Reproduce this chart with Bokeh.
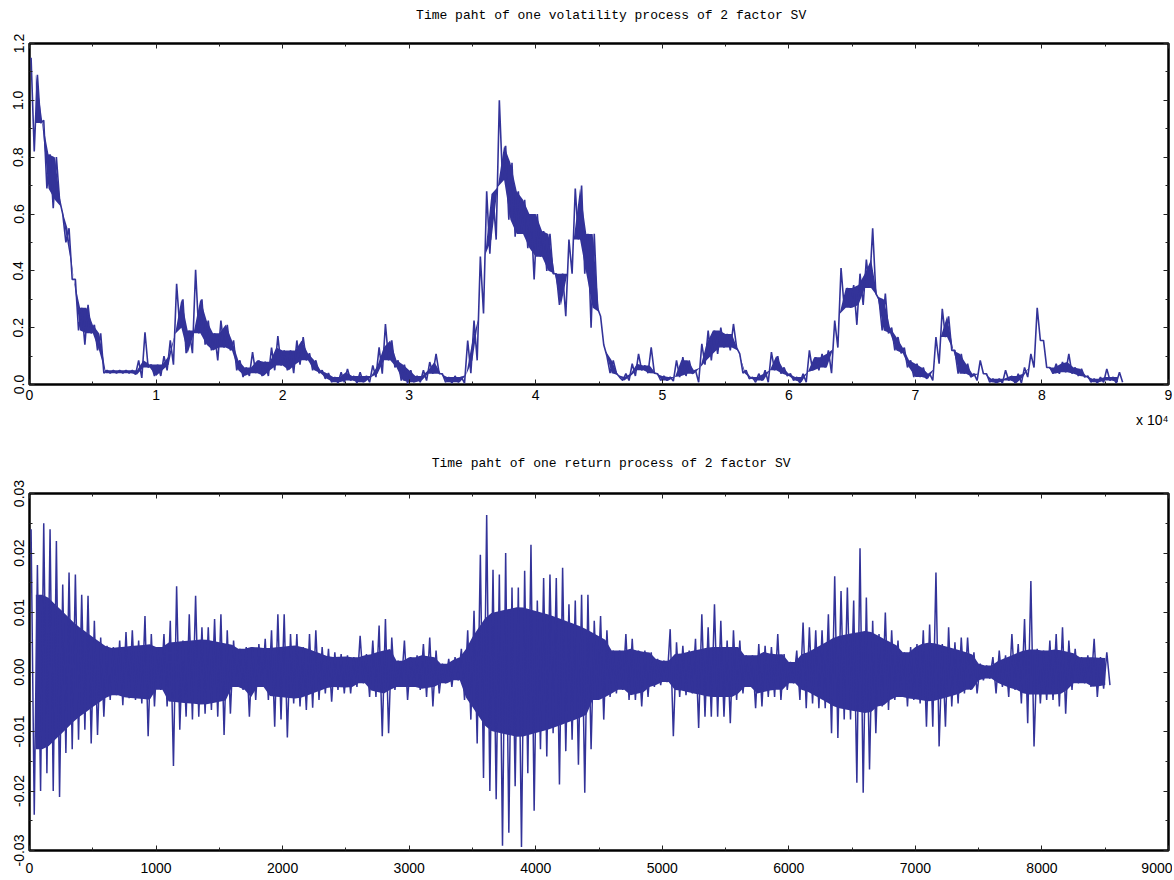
import numpy as np
from bokeh.plotting import figure
from bokeh.models import FixedTicker, LinearAxis, Title, PrintfTickFormatter, Range1d, BasicTickFormatter
from bokeh.core.properties import value
from bokeh.layouts import column
from bokeh.embed import file_html
from bokeh.resources import INLINE

# ---------------- data ----------------
# volatility path, x in units of 10^4, bins of 0.05 : local high / low in each bin
VOL_BIN = 0.05
vol_hi = [1.15, 1.09, 0.93, 0.81, 0.80, 0.60, 0.55, 0.37, 0.27, 0.28,
          0.21, 0.18, 0.05, 0.05, 0.05, 0.05, 0.05, 0.085, 0.184, 0.07,
          0.07, 0.10, 0.155, 0.354, 0.30, 0.19, 0.404, 0.30, 0.225, 0.18,
          0.225, 0.21, 0.155, 0.085, 0.06, 0.114, 0.085, 0.08, 0.13, 0.17,
          0.12, 0.12, 0.155, 0.167, 0.11, 0.085, 0.05, 0.04, 0.026, 0.043,
          0.055, 0.03, 0.043, 0.03, 0.067, 0.131, 0.213, 0.155, 0.085, 0.07,
          0.05, 0.03, 0.05, 0.079, 0.108, 0.038, 0.026, 0.03, 0.026, 0.155,
          0.225, 0.45, 0.68, 0.67, 1.0, 0.84, 0.78, 0.68, 0.65, 0.60,
          0.60, 0.54, 0.53, 0.39, 0.39, 0.51, 0.69, 0.70, 0.53, 0.53,
          0.24, 0.10, 0.085, 0.026, 0.038, 0.073, 0.108, 0.067, 0.131, 0.038,
          0.03, 0.026, 0.085, 0.096, 0.085, 0.05, 0.143, 0.19, 0.19, 0.20,
          0.178, 0.213, 0.108, 0.05, 0.026, 0.038, 0.05, 0.114, 0.10, 0.06,
          0.038, 0.026, 0.038, 0.12, 0.096, 0.108, 0.12, 0.225, 0.41, 0.34,
          0.35, 0.39, 0.44, 0.55, 0.30, 0.32, 0.20, 0.167, 0.13, 0.085,
          0.073, 0.06, 0.038, 0.167, 0.266, 0.24, 0.12, 0.108, 0.073, 0.038,
          0.085, 0.038, 0.02, 0.02, 0.05, 0.03, 0.038, 0.06, 0.108, 0.27,
          0.155, 0.06, 0.073, 0.079, 0.108, 0.06, 0.055, 0.03, 0.02, 0.026,
          0.055, 0.026, 0.043]
vol_lo = [0.82, 0.92, 0.69, 0.62, 0.65, 0.50, 0.37, 0.19, 0.14, 0.18,
          0.12, 0.04, 0.04, 0.04, 0.04, 0.04, 0.035, 0.023, 0.06, 0.03,
          0.03, 0.05, 0.07, 0.20, 0.11, 0.11, 0.18, 0.14, 0.12, 0.085,
          0.13, 0.12, 0.05, 0.026, 0.03, 0.04, 0.03, 0.03, 0.05, 0.067,
          0.05, 0.04, 0.07, 0.085, 0.05, 0.04, 0.02, 0.008, 0.005, 0.008,
          0.014, 0.005, 0.008, 0.008, 0.026, 0.038, 0.085, 0.06, 0.014, 0.002,
          0.008, 0.008, 0.014, 0.038, 0.038, 0.008, 0.005, 0.008, 0.005, 0.04,
          0.085, 0.25, 0.46, 0.51, 0.72, 0.58, 0.52, 0.53, 0.48, 0.37,
          0.45, 0.40, 0.39, 0.28, 0.24, 0.39, 0.51, 0.39, 0.20, 0.27,
          0.14, 0.04, 0.04, 0.014, 0.014, 0.03, 0.05, 0.04, 0.04, 0.014,
          0.014, 0.012, 0.026, 0.03, 0.038, 0.008, 0.07, 0.085, 0.108, 0.13,
          0.12, 0.13, 0.04, 0.02, 0.008, 0.014, 0.008, 0.05, 0.038, 0.03,
          0.014, 0.005, 0.008, 0.05, 0.05, 0.06, 0.04, 0.13, 0.27, 0.27,
          0.21, 0.28, 0.34, 0.32, 0.19, 0.18, 0.12, 0.11, 0.06, 0.026,
          0.026, 0.02, 0.014, 0.073, 0.167, 0.12, 0.038, 0.038, 0.026, 0.014,
          0.038, 0.008, 0.005, 0.005, 0.014, 0.005, 0.005, 0.026, 0.06, 0.155,
          0.06, 0.038, 0.038, 0.043, 0.038, 0.03, 0.026, 0.008, 0.005, 0.008,
          0.014, 0.005, 0.008]

# return path, bins of 50 steps : local high / low in each bin
RET_BIN = 50
ret_hi = [0.024, 0.018, 0.025, 0.024, 0.022, 0.0147, 0.0167, 0.0164, 0.013, 0.0128,
          0.0086, 0.0058, 0.0044, 0.0042, 0.0053, 0.0067, 0.007, 0.0053, 0.0094, 0.0064,
          0.0042, 0.0064, 0.0086, 0.0144, 0.0053, 0.0097, 0.0128, 0.0075, 0.0075, 0.0089,
          0.0097, 0.007, 0.0053, 0.0039, 0.0042, 0.0042, 0.0047, 0.0056, 0.007, 0.0097,
          0.0097, 0.0064, 0.0064, 0.0042, 0.0064, 0.007, 0.0042, 0.0039, 0.0033, 0.003,
          0.0028, 0.0025, 0.0061, 0.003, 0.0053, 0.0078, 0.0089, 0.0058, 0.0019, 0.0053,
          0.0025, 0.0028, 0.0047, 0.0058, 0.0036, 0.0014, 0.0022, 0.0025, 0.0039, 0.007,
          0.0103, 0.0197, 0.0264, 0.0172, 0.0164, 0.02, 0.0142, 0.0142, 0.017, 0.0214,
          0.012, 0.0158, 0.0164, 0.0158, 0.0175, 0.0114, 0.012, 0.013, 0.013, 0.0086,
          0.0094, 0.007, 0.0036, 0.0036, 0.0064, 0.0056, 0.0036, 0.0036, 0.0033, 0.0022,
          0.0019, 0.0072, 0.005, 0.0044, 0.0036, 0.0056, 0.0097, 0.0075, 0.0114, 0.0086,
          0.0053, 0.007, 0.0053, 0.0028, 0.0028, 0.0047, 0.0044, 0.0042, 0.0064, 0.003,
          0.0017, 0.0036, 0.0083, 0.0075, 0.007, 0.007, 0.0097, 0.0161, 0.0136, 0.0142,
          0.012, 0.0208, 0.0125, 0.0086, 0.0064, 0.01, 0.007, 0.0053, 0.0033, 0.0042,
          0.0047, 0.007, 0.008, 0.0167, 0.0047, 0.0075, 0.005, 0.0058, 0.0058, 0.0033,
          0.0014, 0.0011, 0.0025, 0.0036, 0.0028, 0.0064, 0.0047, 0.0089, 0.0153, 0.0039,
          0.0036, 0.0053, 0.0064, 0.0075, 0.0053, 0.0039, 0.0025, 0.0028, 0.0056, 0.0025,
          0.0033]
ret_lo = [-0.024, -0.020, -0.017, -0.020, -0.021, -0.0136, -0.013, -0.0114, -0.0097, -0.012,
          -0.0106, -0.0075, -0.0047, -0.0039, -0.0056, -0.0044, -0.0047, -0.0053, -0.0108, -0.0058,
          -0.003, -0.0058, -0.0158, -0.0097, -0.0075, -0.008, -0.0075, -0.007, -0.0064, -0.0075,
          -0.0106, -0.007, -0.0025, -0.003, -0.0075, -0.0047, -0.0025, -0.0047, -0.0092, -0.008,
          -0.011, -0.0053, -0.0058, -0.0064, -0.006, -0.0047, -0.0036, -0.005, -0.003, -0.0036,
          -0.0036, -0.0025, -0.0019, -0.0042, -0.0042, -0.0108, -0.0103, -0.003, -0.0025, -0.0047,
          -0.0025, -0.003, -0.0042, -0.0058, -0.0036, -0.0019, -0.0025, -0.0014, -0.0047, -0.008,
          -0.012, -0.0178, -0.020, -0.0214, -0.0292, -0.027, -0.0192, -0.0294, -0.017, -0.0233,
          -0.013, -0.0142, -0.0103, -0.0189, -0.0133, -0.0114, -0.0156, -0.0203, -0.013, -0.0047,
          -0.008, -0.0042, -0.0036, -0.003, -0.0047, -0.0047, -0.0058, -0.0042, -0.0025, -0.0022,
          -0.0017, -0.0108, -0.0042, -0.0039, -0.0036, -0.0094, -0.0075, -0.0075, -0.0075, -0.0075,
          -0.0086, -0.0047, -0.0036, -0.0025, -0.0061, -0.0058, -0.0042, -0.0042, -0.0047, -0.003,
          -0.0019, -0.0047, -0.0061, -0.0053, -0.0061, -0.0061, -0.0103, -0.0111, -0.008, -0.008,
          -0.0186, -0.0203, -0.0164, -0.0103, -0.0058, -0.0064, -0.0047, -0.0042, -0.0058, -0.0047,
          -0.0053, -0.0092, -0.0092, -0.0125, -0.0092, -0.0058, -0.0053, -0.0036, -0.003, -0.0036,
          -0.0014, -0.0011, -0.0036, -0.0025, -0.0042, -0.003, -0.0053, -0.0086, -0.0125, -0.0053,
          -0.0047, -0.0047, -0.0058, -0.007, -0.003, -0.0019, -0.0019, -0.0025, -0.0042, -0.0028,
          -0.0022]

# half-width of the dense (solid) core of the return cloud, bins of 250 steps
CORE_BIN = 250
ret_core = [0.013, 0.0078, 0.004, 0.0045, 0.005, 0.0055, 0.0045, 0.004, 0.0045, 0.0025,
            0.0027, 0.004, 0.0027, 0.002, 0.0098, 0.011, 0.0095, 0.0075, 0.0045, 0.0033,
            0.003, 0.0042, 0.0042, 0.003, 0.003, 0.006, 0.007, 0.0042, 0.005, 0.0035,
            0.0016, 0.0038, 0.0038, 0.0025, 0.0022]

vol_xticks = list(range(0, 10))
vol_yticks = [0.0, 0.2, 0.4, 0.6, 0.8, 1.0, 1.2]
ret_xticks = list(range(0, 9001, 1000))
ret_yticks = [-0.03, -0.02, -0.01, 0.0, 0.01, 0.02, 0.03]

title_top = "Time paht of one volatility process of 2 factor SV"
title_bot = "Time paht of one return process of 2 factor SV"
exp_label = "x 10\u2074"

# ---------------- styling ----------------
LINE = "#333399"
FONT = "Liberation Sans"
TFONT = "Liberation Mono"
W = 1172


def zigzag(hi, lo, w):
    xs, ys = [], []
    for i, (h, l) in enumerate(zip(hi, lo)):
        x0 = i * w
        xs += [x0 + 0.25 * w, x0 + 0.75 * w]
        ys += [h, l]
    return xs, ys


def overlap_band(hi, lo, w):
    # range shared by two neighbouring bins, which the path must cross
    xs, y1, y2 = [], [], []
    for i in range(len(hi) - 1):
        a = max(lo[i], lo[i + 1])
        b = min(hi[i], hi[i + 1])
        if a > b:
            a = b = 0.5 * (a + b)
        xs.append((i + 1) * w)
        y1.append(a)
        y2.append(b)
    return xs, y1, y2


def core_limited_band(hi, lo, w, core, cw):
    xs, y1, y2 = overlap_band(hi, lo, w)
    cx = [i * cw + 0.5 * cw for i in range(len(core))]
    c = np.interp(xs, cx, core)
    y1 = [max(a, -k) for a, k in zip(y1, c)]
    y2 = [min(b, k) for b, k in zip(y2, c)]
    return xs, y1, y2


def style_axis(ax, ticks, minor, labels=True, fmt=None, vertical=False, standoff=4):
    ax.ticker = FixedTicker(ticks=ticks, minor_ticks=minor)
    ax.axis_line_color = None
    ax.major_tick_in = 5
    ax.major_tick_out = 0
    ax.minor_tick_in = 3
    ax.minor_tick_out = 0
    ax.major_tick_line_color = "#222222"
    ax.minor_tick_line_color = "#222222"
    ax.major_tick_line_width = 1
    ax.minor_tick_line_width = 1
    if fmt is not None:
        ax.formatter = fmt
    if labels:
        ax.major_label_text_font = FONT
        ax.major_label_text_font_size = "14px"
        ax.major_label_text_color = "black"
        ax.major_label_standoff = standoff
        if vertical:
            ax.major_label_orientation = "vertical"
    else:
        ax.major_label_text_font_size = "0px"
        ax.major_label_text_alpha = 0
        ax.major_label_standoff = 0


def make_fig(width, height, xr, yr, bl, br, bt, bb):
    p = figure(width=width, height=height, x_range=Range1d(*xr), y_range=Range1d(*yr),
               output_backend="svg", toolbar_location=None,
               min_border_left=bl, min_border_right=br, min_border_top=bt, min_border_bottom=bb)
    p.grid.visible = False
    p.outline_line_color = "black"
    p.outline_line_width = 2.5
    p.background_fill_color = "white"
    p.border_fill_color = "white"
    return p


def heading(text, h, y_from_bottom):
    s = figure(width=W, height=h, x_range=Range1d(0, W), y_range=Range1d(0, h),
               output_backend="svg", toolbar_location=None,
               min_border_left=0, min_border_right=0, min_border_top=0, min_border_bottom=0)
    s.axis.visible = False
    s.grid.visible = False
    s.outline_line_color = None
    s.background_fill_color = "white"
    s.border_fill_color = "white"
    s.text(x=[598.5], y=[y_from_bottom], text=[text], text_align="center", text_baseline="middle",
           text_font=value(TFONT), text_font_size="13px", text_color="black")
    return s


# ---------- heading strip for the upper chart ----------
TH = 26
pt = heading(title_top, TH, TH - 15)

# ---------- top: volatility ----------
H1 = 440 - TH
p1 = make_fig(W, H1, (0, 9), (0, 1.2), 29, 4, 43 - TH, 56)
bx, b1, b2 = overlap_band(vol_hi, vol_lo, VOL_BIN)
p1.varea(x=bx, y1=b1, y2=b2, fill_color=LINE)
vx, vy = zigzag(vol_hi, vol_lo, VOL_BIN)
p1.line(vx, vy, line_color=LINE, line_width=1.6)
style_axis(p1.xaxis[0], vol_xticks, [t + 0.5 for t in vol_xticks[:-1]], True, BasicTickFormatter(), standoff=5)
style_axis(p1.yaxis[0], vol_yticks, [round(t + 0.1, 2) for t in vol_yticks[:-1]], True,
           PrintfTickFormatter(format="%.1f"), vertical=True, standoff=6)
ax_t = LinearAxis()
style_axis(ax_t, vol_xticks, [t + 0.5 for t in vol_xticks[:-1]], False)
p1.add_layout(ax_t, "above")
ax_r = LinearAxis()
style_axis(ax_r, vol_yticks, [round(t + 0.1, 2) for t in vol_yticks[:-1]], False)
p1.add_layout(ax_r, "right")
p1.add_layout(Title(text=exp_label, align="right", text_font=FONT, text_font_size="14px",
                    text_font_style="normal", text_color="black", standoff=14), "below")

# ---------- heading strip for the lower chart ----------
BH = 30
pb = heading(title_bot, BH, BH - (463 - 440))

# ---------- bottom: returns ----------
H2 = 879 - 440 - BH
p2 = make_fig(W, H2, (0, 9000), (-0.03, 0.03), 29, 4, 493 - 440 - BH, 29)
rbx, rb1, rb2 = core_limited_band(ret_hi, ret_lo, RET_BIN, ret_core, CORE_BIN)
p2.varea(x=rbx, y1=rb1, y2=rb2, fill_color=LINE)
rx, ry = zigzag(ret_hi, ret_lo, RET_BIN)
p2.line(rx, ry, line_color=LINE, line_width=1.5)
style_axis(p2.xaxis[0], ret_xticks, [t + 500 for t in ret_xticks[:-1]], True, BasicTickFormatter(), standoff=12)
ret_minor = [round(t + 0.005, 3) for t in ret_yticks[:-1]]
style_axis(p2.yaxis[0], ret_yticks, ret_minor, True, PrintfTickFormatter(format="%.2f"),
           vertical=True, standoff=6)
ax_t2 = LinearAxis()
style_axis(ax_t2, ret_xticks, [t + 500 for t in ret_xticks[:-1]], False)
p2.add_layout(ax_t2, "above")
ax_r2 = LinearAxis()
style_axis(ax_r2, ret_yticks, ret_minor, False)
p2.add_layout(ax_r2, "right")

layout = column(pt, p1, pb, p2, spacing=0)
open("out.html", "w").write(file_html(layout, INLINE))
